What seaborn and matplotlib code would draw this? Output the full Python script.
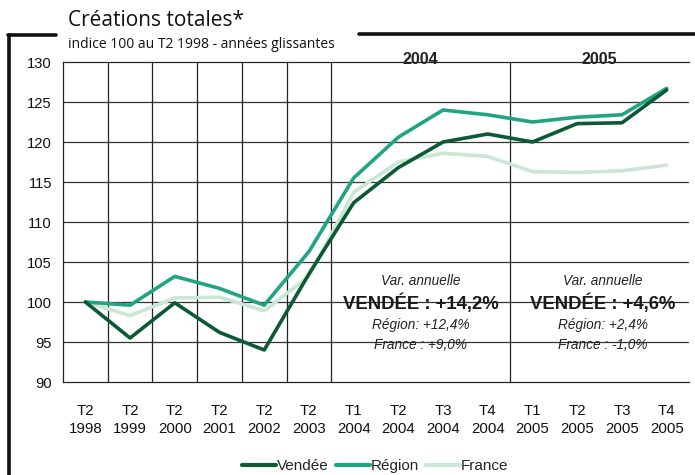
import matplotlib
matplotlib.use("Agg")
import matplotlib.pyplot as plt
import seaborn as sns
import pandas as pd
from matplotlib.lines import Line2D

periods = ["T2\n1998", "T2\n1999", "T2\n2000", "T2\n2001", "T2\n2002", "T2\n2003",
           "T1\n2004", "T2\n2004", "T3\n2004", "T4\n2004",
           "T1\n2005", "T2\n2005", "T3\n2005", "T4\n2005"]
vendee = [100, 95.5, 99.9, 96.2, 94.0, 103.5, 112.4, 116.8, 120.0, 121.0, 120.0, 122.3, 122.4, 126.5]
region = [100, 99.6, 103.2, 101.7, 99.6, 106.3, 115.5, 120.6, 124.0, 123.4, 122.5, 123.1, 123.4, 126.7]
france = [100, 98.3, 100.5, 100.6, 98.9, 103.2, 113.7, 117.5, 118.6, 118.2, 116.3, 116.2, 116.4, 117.1]
series_names = ["Vendée", "Région", "France"]
colors = ["#0b5a33", "#20a583", "#c9e7d3"]
annot_2004 = ["Var. annuelle", "VENDÉE : +14,2%", "Région: +12,4%", "France : +9,0%"]
annot_2005 = ["Var. annuelle", "VENDÉE : +4,6%", "Région: +2,4%", "France : -1,0%"]

rows = []
for name, vals in zip(series_names, [vendee, region, france]):
    for i, v in enumerate(vals):
        rows.append({"idx": i, "value": v, "serie": name})
df = pd.DataFrame(rows)

sns.set_theme(style="white")
plt.rcParams["font.family"] = ["Liberation Sans", "DejaVu Sans"]

fig = plt.figure(figsize=(6.95, 4.75), dpi=100)
ax = fig.add_axes([63/695, 1-382/475, (689-63)/695, (382-62)/475])

# grid lines
for y in range(95, 130, 5):
    ax.axhline(y, color="#333333", lw=0.9, zorder=1)
for x in [0.5, 1.5, 2.5, 3.5, 4.5, 5.5, 9.5]:
    ax.axvline(x, color="#222222", lw=0.9, zorder=1)

# draw in reverse so Vendée on top
sns.lineplot(data=df, x="idx", y="value", hue="serie", hue_order=series_names[::-1],
             palette=colors[::-1], linewidth=2.6, ax=ax, legend=False, zorder=3)

ax.set_xlim(-0.5, 13.5)
ax.set_ylim(90, 130)
ax.set_yticks(range(90, 131, 5))
ax.set_xticks(range(len(periods)))
ax.set_xticklabels(periods, fontsize=10.8, linespacing=1.3)
ax.tick_params(axis="x", length=0, pad=16, colors="#111111")
ax.set_xticks([i + 0.5 for i in range(13)], minor=True)
ax.tick_params(axis="x", which="minor", direction="out", length=5, width=0.9, color="#222222")
ax.tick_params(axis="y", direction="out", length=5, width=0.9, labelsize=10.6, pad=3, colors="#111111")
ax.tick_params(axis="y", color="#333333")
ax.set_xlabel("")
ax.set_ylabel("")
ax.spines["right"].set_visible(False)
for s in ["left", "top", "bottom"]:
    ax.spines[s].set_color("#222222")
    ax.spines[s].set_linewidth(0.9)

# year labels
ax.text(7.5, 130.3, "2004", ha="center", va="center", fontsize=11.5, fontweight="bold", color="#222222")
ax.text(11.5, 130.3, "2005", ha="center", va="center", fontsize=11.5, fontweight="bold", color="#222222")

for xc, lines in [(7.5, annot_2004), (11.57, annot_2005)]:
    ax.text(xc, 102.6, lines[0], ha="center", va="center", fontsize=9.8, style="italic", color="#222222")
    ax.text(xc, 99.9, lines[1], ha="center", va="center", fontsize=13.3, fontweight="bold", color="#1a1a1a")
    ax.text(xc, 97.1, lines[2], ha="center", va="center", fontsize=9.8, style="italic", color="#222222")
    ax.text(xc, 94.6, lines[3], ha="center", va="center", fontsize=9.8, style="italic", color="#222222")

# titles
fig.text(68/695, 1-20/475, "Créations totales*", fontsize=15, family=["Open Sans", "DejaVu Sans"],
         ha="left", va="center", color="#111111")
fig.text(68/695, 1-45/475, "indice 100 au T2 1998 - années glissantes", fontsize=10,
         family=["Open Sans", "DejaVu Sans"], ha="left", va="center", color="#111111")

# decorative frame
fig.add_artist(Line2D([9/695, 9/695], [0, 1-35/475], color="#111111", lw=2.6, transform=fig.transFigure))
fig.add_artist(Line2D([8/695, 56/695], [1-35/475, 1-35/475], color="#111111", lw=2.6, transform=fig.transFigure))
fig.add_artist(Line2D([359/695, 1], [1-34/475, 1-34/475], color="#111111", lw=2.6, transform=fig.transFigure))

handles = [Line2D([0], [0], color=c, lw=3) for c in colors]
fig.legend(handles, series_names, loc="center", bbox_to_anchor=(0.54, 1-466/475), ncol=3,
           frameon=False, fontsize=11, handlelength=2.2, handletextpad=0.05, columnspacing=0.5)

fig.savefig("out.png", dpi=100)
